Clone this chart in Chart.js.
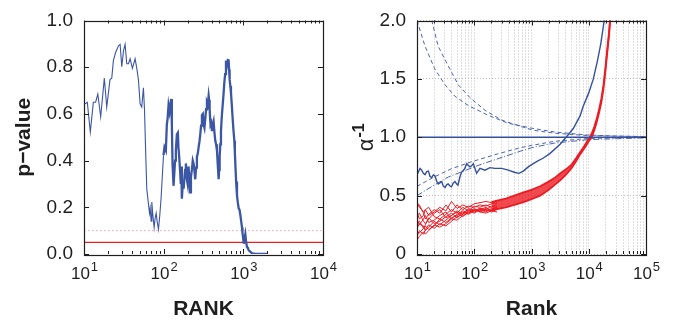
<!DOCTYPE html>
<html>
<head>
<meta charset="utf-8">
<script src="https://cdn.jsdelivr.net/npm/chart.js@4.4.1/dist/chart.umd.min.js"></script>
<style>
  html, body { margin: 0; padding: 0; background: #fff; }
  #wrap { position: relative; width: 685px; height: 328px; }
  .panel { position: absolute; top: 0; }
</style>
</head>
<body>
<div id="wrap">
  <div class="panel" style="left:0"><canvas id="left" width="342" height="328"></canvas></div>
  <div class="panel" style="left:342px"><canvas id="right" width="343" height="328"></canvas></div>
</div>
<script>
// ---- data ----

// left panel: p-value against rank
const leftRank = [
  10.3, 11.0, 12.0, 13.1, 14.0, 14.9, 16.2, 18.0, 19.3, 21.2,
  22.3, 23.4, 25.0, 27.0, 28.4, 29.8, 31.3, 32.8, 34.4, 36.1,
  37.9, 40.5, 43.8, 46.0, 48.2, 49.2, 50.6, 53.1, 55.7, 57.4,
  59.7, 61.4, 64.4, 66.4, 67.7, 69.7, 71.0, 73.1, 75.9, 78.2,
  80.5, 82.8, 86.1, 89.5, 93.0, 99.5, 102.4, 106.5, 109.6, 112,
  115.1, 118.4, 121.9, 124.2, 126.7, 129.2, 133.0, 136.9, 139, 142.2,
  146.5, 150.8, 153, 156.7, 161.3, 164, 166, 169.2, 174.2, 178,
  182.8, 186, 190.0, 195.6, 200, 205.1, 211.3, 215.4, 220, 226.0,
  232, 237.2, 243, 249.0, 255, 261.4, 268, 274.4, 281, 287.9,
  295, 302.2, 310, 317.2, 325, 332.9, 341, 349.4, 358, 366.8,
  372, 377.4, 383, 388.3, 396, 403.6, 413, 423.6, 434, 444.7,
  455, 466.8, 478, 490.0, 497, 504.2, 514, 523.8, 537, 549.8,
  563, 577.1, 591, 605.8, 617, 629.3, 641, 653.9, 663, 673.0,
  686, 699.6, 716, 734.3, 752, 770.9, 782, 793.1, 812, 832.4,
  853, 873.8, 895, 917.0, 940, 962.6, 976, 991, 1005, 1019,
  1040, 1059, 1085, 1112, 1140, 1167, 1220, 1286, 1416, 2000
];
const leftP = [
  0.643, 0.650, 0.522, 0.650, 0.650, 0.685, 0.588, 0.753, 0.629, 0.747,
  0.753, 0.829, 0.864, 0.891, 0.898, 0.802, 0.870, 0.898, 0.815, 0.815,
  0.836, 0.795, 0.836, 0.795, 0.747, 0.705, 0.643, 0.629, 0.712, 0.623,
  0.416, 0.278, 0.216, 0.175, 0.196, 0.140, 0.223, 0.168, 0.113, 0.154,
  0.175, 0.140, 0.106, 0.168, 0.244, 0.423, 0.457, 0.443, 0.554, 0.58,
  0.636, 0.609, 0.643, 0.664, 0.554, 0.388, 0.292, 0.361, 0.40, 0.443,
  0.512, 0.519, 0.46, 0.416, 0.347, 0.30, 0.375, 0.237, 0.306, 0.28,
  0.333, 0.36, 0.388, 0.320, 0.30, 0.375, 0.306, 0.264, 0.33, 0.361,
  0.40, 0.388, 0.36, 0.320, 0.37, 0.416, 0.43, 0.457, 0.48, 0.512,
  0.55, 0.595, 0.60, 0.554, 0.54, 0.581, 0.62, 0.650, 0.64, 0.678,
  0.66, 0.623, 0.58, 0.554, 0.56, 0.526, 0.55, 0.567, 0.52, 0.485,
  0.47, 0.443, 0.38, 0.320, 0.36, 0.416, 0.47, 0.526, 0.59, 0.636,
  0.68, 0.733, 0.77, 0.829, 0.80, 0.815, 0.83, 0.829, 0.79, 0.747,
  0.72, 0.691, 0.64, 0.581, 0.53, 0.485, 0.44, 0.388, 0.31, 0.251,
  0.22, 0.196, 0.19, 0.168, 0.14, 0.113, 0.09, 0.072, 0.06, 0.044,
  0.07, 0.085, 0.05, 0.030, 0.025, 0.017, 0.01, 0.003, 0, 0
];
const leftLineRank = [10, 10000];
const leftAlpha = [0.05, 0.05];
const leftAlphaLoose = [0.1, 0.1];
const leftDecades = [10, 100, 1000, 10000];

// right panel: inverse exponent against rank
const rightDecades = [10, 100, 1000, 10000, 100000];
const unitRank = [10, 100000];
const unitLine = [1, 1];

const blueRank = [
  10, 10.5, 11.3, 12, 12.9, 13.8, 14.8, 15.8, 16.9, 18,
  19.3, 20.5, 22.1, 23.5, 25.1, 27, 28.8, 31, 33.1, 35,
  37.7, 40, 43.1, 46, 49.3, 52, 56.4, 60, 64.6, 68,
  73.8, 78, 84.3, 90, 96.2, 110, 126, 154, 188, 230,
  302, 394, 501, 603, 719, 879, 1072, 1318, 1585, 2089,
  3162, 4121, 5370, 7079, 8035, 10000, 12023, 14125, 16218, 18621,
  19500
];
const blueVal = [
  0.677, 0.70, 0.733, 0.72, 0.691, 0.68, 0.705, 0.71, 0.664, 0.655,
  0.677, 0.67, 0.623, 0.60, 0.609, 0.62, 0.582, 0.57, 0.595, 0.60,
  0.582, 0.575, 0.609, 0.62, 0.60, 0.59, 0.664, 0.70, 0.718, 0.73,
  0.774, 0.76, 0.746, 0.755, 0.774, 0.691, 0.733, 0.718, 0.74, 0.733,
  0.733, 0.718, 0.70, 0.691, 0.71, 0.746, 0.774, 0.80, 0.82, 0.86,
  0.94, 1.007, 1.075, 1.185, 1.267, 1.38, 1.5, 1.65, 1.8, 2.0,
  2.06
];

// confidence bounds (dashed)
const boundARank = [10, 13.8, 20.4, 30.9, 45.7, 79.4, 176, 389, 1000, 2512, 9120, 31623, 100000];
const boundA = [2.0, 1.78, 1.586, 1.449, 1.352, 1.27, 1.188, 1.12, 1.078, 1.045, 1.02, 1.01, 1.005];
const boundBRank = [17, 18.1, 23.4, 35.2, 52.5, 84.3, 155, 302, 676, 1072, 2512, 9120, 100000];
const boundB = [2.06, 2.0, 1.78, 1.61, 1.449, 1.339, 1.23, 1.147, 1.09, 1.06, 1.035, 1.015, 1.005];
const boundCRank = [10, 20, 39.8, 89.1, 251, 631, 1000, 2512, 10000, 100000];
const boundC = [0.58, 0.66, 0.73, 0.79, 0.856, 0.91, 0.93, 0.965, 0.99, 0.998];
const boundDRank = [10, 20, 35.5, 135, 316, 631, 1000, 2512, 10000, 100000];
const boundD = [0.50, 0.59, 0.66, 0.77, 0.83, 0.88, 0.91, 0.95, 0.98, 0.995];

// red runs: scattered heads that merge into one band
const redHeadRank = [10, 11, 13, 14, 16, 20, 25, 32, 40, 50, 63, 79, 100, 126, 160, 200, 251];
const redHeadRuns = [
  [0.45, 0.40, 0.36, 0.38, 0.33, 0.36, 0.40, 0.37, 0.45, 0.39, 0.42, 0.40, 0.43, 0.44, 0.45, 0.44, 0.46],
  [0.40, 0.42, 0.35, 0.30, 0.34, 0.38, 0.35, 0.42, 0.36, 0.42, 0.38, 0.41, 0.40, 0.42, 0.41, 0.43, 0.44],
  [0.36, 0.30, 0.33, 0.38, 0.40, 0.32, 0.30, 0.34, 0.38, 0.35, 0.40, 0.37, 0.41, 0.40, 0.42, 0.40, 0.43],
  [0.33, 0.35, 0.28, 0.26, 0.30, 0.35, 0.38, 0.31, 0.33, 0.37, 0.34, 0.39, 0.37, 0.39, 0.38, 0.41, 0.40],
  [0.30, 0.25, 0.30, 0.33, 0.27, 0.29, 0.33, 0.36, 0.30, 0.34, 0.37, 0.35, 0.38, 0.37, 0.39, 0.37, 0.41],
  [0.26, 0.28, 0.22, 0.25, 0.31, 0.26, 0.28, 0.32, 0.35, 0.31, 0.35, 0.38, 0.36, 0.38, 0.36, 0.39, 0.38],
  [0.22, 0.26, 0.24, 0.20, 0.23, 0.28, 0.25, 0.29, 0.33, 0.36, 0.32, 0.36, 0.39, 0.36, 0.38, 0.36, 0.39],
  [0.19, 0.18, 0.22, 0.24, 0.21, 0.24, 0.30, 0.27, 0.31, 0.33, 0.36, 0.34, 0.37, 0.39, 0.37, 0.38, 0.40],
  [0.15, 0.20, 0.17, 0.21, 0.25, 0.22, 0.26, 0.24, 0.28, 0.32, 0.34, 0.37, 0.35, 0.38, 0.40, 0.37, 0.39],
  [0.12, 0.15, 0.19, 0.17, 0.20, 0.25, 0.23, 0.26, 0.30, 0.29, 0.33, 0.35, 0.38, 0.36, 0.35, 0.37, 0.36]
];
const redTailRank = [
  200, 251, 355, 501, 724, 1000, 1413, 2000, 2512, 3162,
  4000, 5000, 6000, 7000, 8000, 9000, 10000, 11220, 12500, 13804,
  15000, 16596, 18000, 19500, 21000, 22500, 23442, 24500
];
const redTailUpper = [
  0.445, 0.458, 0.475, 0.50, 0.527, 0.55, 0.58, 0.62, 0.65, 0.69,
  0.725, 0.765, 0.82, 0.87, 0.91, 0.95, 0.985, 1.03, 1.09, 1.16,
  1.23, 1.33, 1.44, 1.59, 1.75, 1.89, 2.0, 2.08
];
const redTailLower = [
  0.37, 0.385, 0.40, 0.42, 0.444, 0.47, 0.50, 0.55, 0.59, 0.63,
  0.68, 0.735, 0.795, 0.85, 0.89, 0.93, 0.965, 1.0, 1.06, 1.13,
  1.20, 1.30, 1.41, 1.56, 1.72, 1.86, 1.97, 2.08
];

// ---- styling ----
const FONT = "'Liberation Sans', Arial, Helvetica, sans-serif";
const INK = '#1e1e1e';
const BLUE = '#34509f';
const RED = '#ec1c24';
const GRID = 'rgba(140,140,140,0.55)';

const pts = (xs, ys) => xs.map((x, i) => ({ x, y: ys[i] }));

function logTicks(decades) {
  return scale => {
    const ticks = [];
    decades.forEach((d, i) => {
      ticks.push({ value: d, major: true });
      if (i < decades.length - 1) {
        for (let m = 2; m <= 9; m++) ticks.push({ value: d * m, major: false });
      }
    });
    scale.ticks = ticks;
  };
}

// box round the plot with inward tick marks, matlab style
const frameTicks = {
  id: 'frameTicks',
  afterDatasetsDraw(chart) {
    const { ctx, chartArea: a, scales: { x, y } } = chart;
    ctx.save();
    ctx.strokeStyle = INK;
    ctx.lineWidth = 1;
    ctx.beginPath();
    x.ticks.forEach(t => {
      const px = Math.round(x.getPixelForValue(t.value)) + 0.5;
      const len = t.major ? 5 : 3;
      ctx.moveTo(px, a.bottom); ctx.lineTo(px, a.bottom - len);
      ctx.moveTo(px, a.top); ctx.lineTo(px, a.top + len);
    });
    y.ticks.forEach(t => {
      const py = Math.round(y.getPixelForValue(t.value)) + 0.5;
      ctx.moveTo(a.left, py); ctx.lineTo(a.left + 5, py);
      ctx.moveTo(a.right, py); ctx.lineTo(a.right - 5, py);
    });
    ctx.stroke();
    ctx.lineWidth = 1.2;
    ctx.strokeRect(Math.round(a.left) + 0.5, Math.round(a.top) + 0.5,
      Math.round(a.right - a.left), Math.round(a.bottom - a.top));
    ctx.restore();
  }
};

// 10^n labels with a raised exponent
const powerLabels = {
  id: 'powerLabels',
  afterDraw(chart, args, opts) {
    const { ctx, scales: { x } } = chart;
    ctx.save();
    ctx.fillStyle = INK;
    ctx.textBaseline = 'alphabetic';
    ctx.textAlign = 'left';
    opts.decades.forEach(v => {
      const px = x.getPixelForValue(v);
      const exp = String(Math.round(Math.log10(v)));
      ctx.font = `17px ${FONT}`;
      const w1 = ctx.measureText('10').width;
      ctx.font = `13px ${FONT}`;
      const w2 = ctx.measureText(exp).width;
      const start = px - (w1 + w2) / 2;
      ctx.font = `17px ${FONT}`;
      ctx.fillText('10', start, x.top + 25);
      ctx.font = `13px ${FONT}`;
      ctx.fillText(exp, start + w1 + 1, x.top + 17);
    });
    ctx.restore();
  }
};

// rotated alpha^-1 axis title
const alphaTitle = {
  id: 'alphaTitle',
  afterDraw(chart) {
    const { ctx, chartArea: a } = chart;
    ctx.save();
    ctx.translate(25, (a.top + a.bottom) / 2);
    ctx.rotate(-Math.PI / 2);
    ctx.fillStyle = INK;
    ctx.textBaseline = 'middle';
    ctx.textAlign = 'left';
    ctx.font = `22px ${FONT}`;
    const w1 = ctx.measureText('α').width;
    ctx.font = `bold 16px ${FONT}`;
    const w2 = ctx.measureText('-1').width;
    const start = -(w1 + w2 + 1) / 2;
    ctx.font = `22px ${FONT}`;
    ctx.fillText('α', start, 0);
    ctx.font = `bold 16px ${FONT}`;
    ctx.fillText('-1', start + w1 + 1, -7);
    ctx.restore();
  }
};

const titleFont = { family: FONT, size: 21, weight: 'bold' };
const tickFont = { family: FONT, size: 19, lineHeight: 1 };

// ---- left chart ----
new Chart(document.getElementById('left'), {
  type: 'line',
  data: {
    datasets: [
      {
        data: pts(leftRank, leftP),
        borderColor: '#3b56a5',
        borderWidth: 1.1,
        segment: { borderWidth: c => (c.p0.parsed.x >= 95 ? 2.3 : 1.1) },
        pointRadius: 0,
      },
      {
        data: pts(leftLineRank, leftAlpha),
        borderColor: RED,
        borderWidth: 1.3,
        pointRadius: 0,
      },
      {
        data: pts(leftLineRank, leftAlphaLoose),
        borderColor: '#f3a3a3',
        borderWidth: 1,
        borderDash: [1.5, 2.5],
        pointRadius: 0,
      },
    ],
  },
  options: {
    responsive: false,
    animation: false,
    layout: { padding: { top: 12, right: 19, left: 0, bottom: 0 } },
    plugins: {
      legend: { display: false },
      tooltip: { enabled: false },
      powerLabels: { decades: leftDecades },
    },
    scales: {
      x: {
        type: 'logarithmic',
        min: 10,
        max: 10000,
        afterBuildTicks: logTicks(leftDecades),
        afterFit: s => { s.height = 74; },
        grid: { display: false, drawTicks: false },
        border: { display: false },
        ticks: { display: false },
        title: { display: true, text: 'RANK', color: INK, font: titleFont, padding: { top: 0, bottom: 6 } },
      },
      y: {
        min: 0,
        max: 1,
        afterFit: s => { s.width = 84; },
        grid: { display: false, drawTicks: false },
        border: { display: false },
        ticks: { stepSize: 0.2, padding: 11, color: INK, font: tickFont, callback: v => v.toFixed(1) },
        title: { display: true, text: 'p−value', color: INK, font: titleFont, padding: { top: 12, bottom: 0 } },
      },
    },
  },
  plugins: [frameTicks, powerLabels],
});

// ---- right chart ----
const rightSets = [
  { data: pts(blueRank, blueVal), borderColor: BLUE, borderWidth: 1.4 },
  { data: pts(unitRank, unitLine), borderColor: BLUE, borderWidth: 1.4 },
  { data: pts(redTailRank, redTailUpper), borderColor: RED, borderWidth: 1.8, fill: '+1', backgroundColor: 'rgba(236,28,36,0.8)' },
  { data: pts(redTailRank, redTailLower), borderColor: RED, borderWidth: 1.8 },
];
redHeadRuns.forEach(run => {
  rightSets.push({ data: pts(redHeadRank, run), borderColor: RED, borderWidth: 1 });
});
rightSets.push(
  { data: pts(boundARank, boundA), borderColor: '#4a64b0', borderWidth: 1, borderDash: [4, 3] },
  { data: pts(boundBRank, boundB), borderColor: '#4a64b0', borderWidth: 1, borderDash: [4, 3] },
  { data: pts(boundCRank, boundC), borderColor: '#4a64b0', borderWidth: 1, borderDash: [4, 3] },
  { data: pts(boundDRank, boundD), borderColor: '#4a64b0', borderWidth: 1, borderDash: [6, 2, 1, 2] },
);
rightSets.forEach(d => { d.pointRadius = 0; });

new Chart(document.getElementById('right'), {
  type: 'line',
  data: { datasets: rightSets },
  options: {
    responsive: false,
    animation: false,
    layout: { padding: { top: 11, right: 39, left: 0, bottom: 0 } },
    plugins: {
      legend: { display: false },
      tooltip: { enabled: false },
      powerLabels: { decades: rightDecades },
    },
    scales: {
      x: {
        type: 'logarithmic',
        min: 10,
        max: 100000,
        afterBuildTicks: logTicks(rightDecades),
        afterFit: s => { s.height = 74; },
        grid: { color: GRID, lineWidth: 1, drawTicks: false },
        border: { display: false, dash: [1, 2] },
        ticks: { display: false },
        title: { display: true, text: 'Rank', color: INK, font: titleFont, padding: { top: 0, bottom: 6 } },
      },
      y: {
        min: 0,
        max: 2,
        afterFit: s => { s.width = 75; },
        grid: { color: GRID, lineWidth: 1, drawTicks: false },
        border: { display: false, dash: [1, 2] },
        ticks: { stepSize: 0.5, padding: 11, color: INK, font: tickFont, callback: v => (v === 0 ? '0' : v.toFixed(1)) },
        title: { display: false },
      },
    },
  },
  plugins: [frameTicks, powerLabels, alphaTitle],
});
</script>
</body>
</html>
